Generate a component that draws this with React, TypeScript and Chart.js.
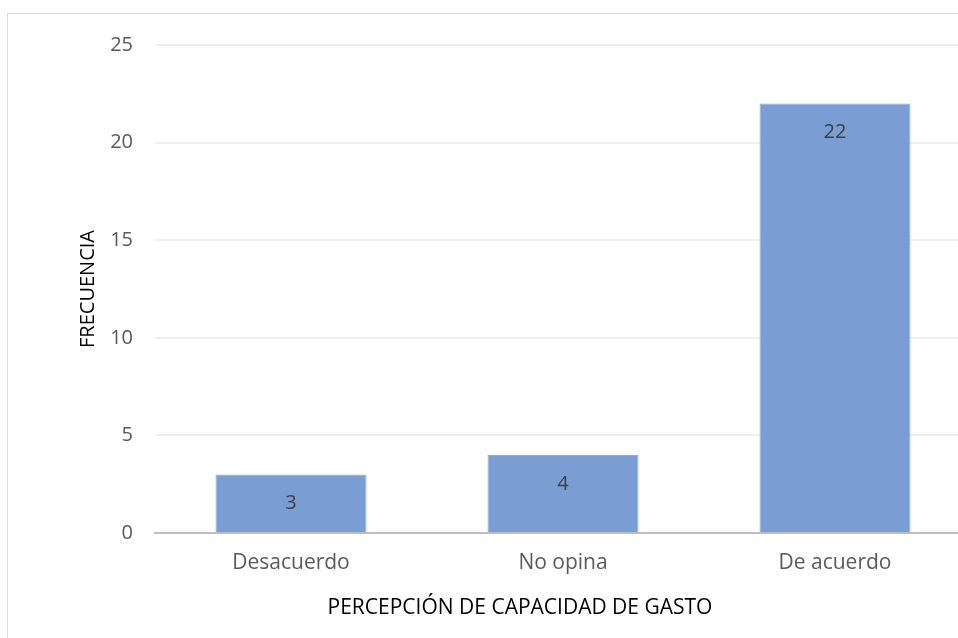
import React, { useEffect, useRef } from "react";
import { Chart, registerables } from "chart.js";

Chart.register(...registerables);

const categories = ["Desacuerdo", "No opina", "De acuerdo"];
const frecuencia = [3, 4, 22];
const yTicks = [0, 5, 10, 15, 20, 25];
const xTitle = "PERCEPCIÓN DE CAPACIDAD DE GASTO";
const yTitle = "FRECUENCIA";

const FONT = "'Open Sans', Calibri, sans-serif";

const labelPlugin = {
  id: "barLabels",
  afterDatasetsDraw(chart: any) {
    const ctx = chart.ctx;
    const meta = chart.getDatasetMeta(0);
    ctx.save();
    ctx.fillStyle = "#404040";
    ctx.font = `20px ${FONT}`;
    ctx.textAlign = "center";
    ctx.textBaseline = "middle";
    meta.data.forEach((bar: any, i: number) => {
      ctx.fillText(String(frecuencia[i]), bar.x, bar.y + 29);
    });
    ctx.restore();
  },
};

const xTitlePlugin = {
  id: "xTitleLeft",
  afterDraw(chart: any) {
    const ctx = chart.ctx;
    ctx.save();
    ctx.fillStyle = "#000000";
    ctx.font = `21px ${FONT}`;
    ctx.textAlign = "center";
    ctx.textBaseline = "middle";
    ctx.fillText(xTitle, chart.chartArea.left + 365, chart.chartArea.bottom + 75);
    ctx.restore();
  },
};

export default function App() {
  const ref = useRef<HTMLCanvasElement>(null);
  useEffect(() => {
    if (!ref.current) return;
    const chart = new Chart(ref.current, {
      type: "bar",
      data: {
        labels: categories,
        datasets: [
          {
            data: frecuencia,
            backgroundColor: "#7a9dd4",
            borderColor: "#8aaadb",
            borderWidth: 1,
            barPercentage: 0.555,
            categoryPercentage: 1,
          },
        ],
      },
      plugins: [labelPlugin, xTitlePlugin],
      options: {
        animation: false,
        responsive: false,
        maintainAspectRatio: false,
        layout: { padding: { top: 27, right: 27, left: 0, bottom: 0 } },
        plugins: { legend: { display: false }, tooltip: { enabled: false } },
        scales: {
          x: {
            grid: { display: false, drawTicks: false },
            border: { color: "#bfbfbf", width: 2 },
            ticks: {
              color: "#595959",
              font: { family: FONT, size: 21 },
              padding: 17,
            },
            afterFit(scale: any) {
              scale.height = 114;
            },
          },
          y: {
            min: 0,
            max: 25,
            afterBuildTicks(scale: any) {
              scale.ticks = yTicks.map((v) => ({ value: v }));
            },
            grid: { color: "#efefef", lineWidth: 2, drawTicks: false },
            border: { display: false },
            ticks: {
              color: "#595959",
              font: { family: FONT, size: 20 },
              padding: 22,
            },
            title: {
              display: true,
              text: yTitle,
              color: "#000000",
              font: { family: FONT, size: 20 },
              padding: { top: 68, bottom: 0 },
            },
            afterFit(scale: any) {
              scale.width = 147;
            },
          },
        },
      },
    });
    return () => chart.destroy();
  }, []);
  return (
    <div
      style={{
        position: "fixed",
        left: 0,
        top: 0,
        width: 958,
        height: 638,
        overflow: "hidden",
        background: "#ffffff",
      }}
    >
      <div
        style={{
          position: "absolute",
          left: 7,
          top: 13,
          border: "1px solid #d9d9d9",
          width: 990,
          height: 650,
          overflow: "hidden",
        }}
      >
        <canvas
          ref={ref}
          width={990}
          height={636}
          style={{ display: "block", marginTop: -3 }}
        />
      </div>
    </div>
  );
}
